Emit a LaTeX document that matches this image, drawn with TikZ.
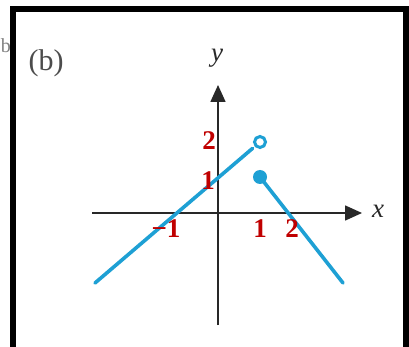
\documentclass[tikz,border=0pt]{standalone}
\usepackage{fontspec}
\setmainfont{Liberation Serif}
\usetikzlibrary{arrows.meta,calc}
\definecolor{graphblue}{RGB}{30,160,212}
\definecolor{labred}{RGB}{192,0,0}
\definecolor{axgray}{RGB}{40,40,40}
\begin{document}
\begin{tikzpicture}[x=1pt,y=-1pt,
  axis/.style={draw=axgray,line width=1.6pt,-{Triangle[length=17pt,width=15pt]}},
  graph/.style={draw=graphblue,line width=3.6pt,line cap=round},
  num/.style={text=labred,font=\fontsize{27}{27}\selectfont\bfseries,inner sep=0pt},
  axlab/.style={text=axgray,font=\fontsize{27}{27}\selectfont\itshape,inner sep=0pt},
  frame/.style={draw=black,line width=6pt}]
\useasboundingbox (0,0) rectangle (409,347);
\fill[white] (0,0) rectangle (409,347);
% small cut letter
\node[text=black!50,font=\fontsize{20}{20}\selectfont,inner sep=0pt] (cutb) at (6,46) {b};
% frame
\draw[frame] (13,347) -- (13,9) -- (406,9) -- (406,347);
% label
\node[text=black!70,font=\fontsize{30}{30}\selectfont,inner sep=0pt] (lab) at (46,63) {(b)};
% axes
\coordinate (xs) at (92,213);
\coordinate (xe) at (362,213);
\coordinate (ys) at (218,325);
\coordinate (ye) at (218,85);
\draw[axis] (xs) -- (xe);
\draw[axis] (ys) -- (ye);
\node[axlab] (xl) at (378,211) {x};
\node[axlab] (yl) at (217,58) {y};
% graph
\coordinate (a) at (95,283);
\coordinate (b) at (260,142);
\coordinate (c) at (260,177);
\coordinate (d) at (343,283);
\draw[graph] (a) -- ($(a)!0.955!(b)$);
\draw[graph] (c) -- (d);
\draw[draw=graphblue,line width=3pt,fill=white] (b) circle (5.5pt);
\fill[graphblue] (c) circle (7pt);
% numbers
\node[num] (n2) at (209,141) {2};
\node[num] (n1) at (208,181) {1};
\node[num] (nm1) at (166,229) {\textminus1};
\node[num] (x1) at (260,229) {1};
\node[num] (x2) at (292,229) {2};
\end{tikzpicture}
\end{document}
